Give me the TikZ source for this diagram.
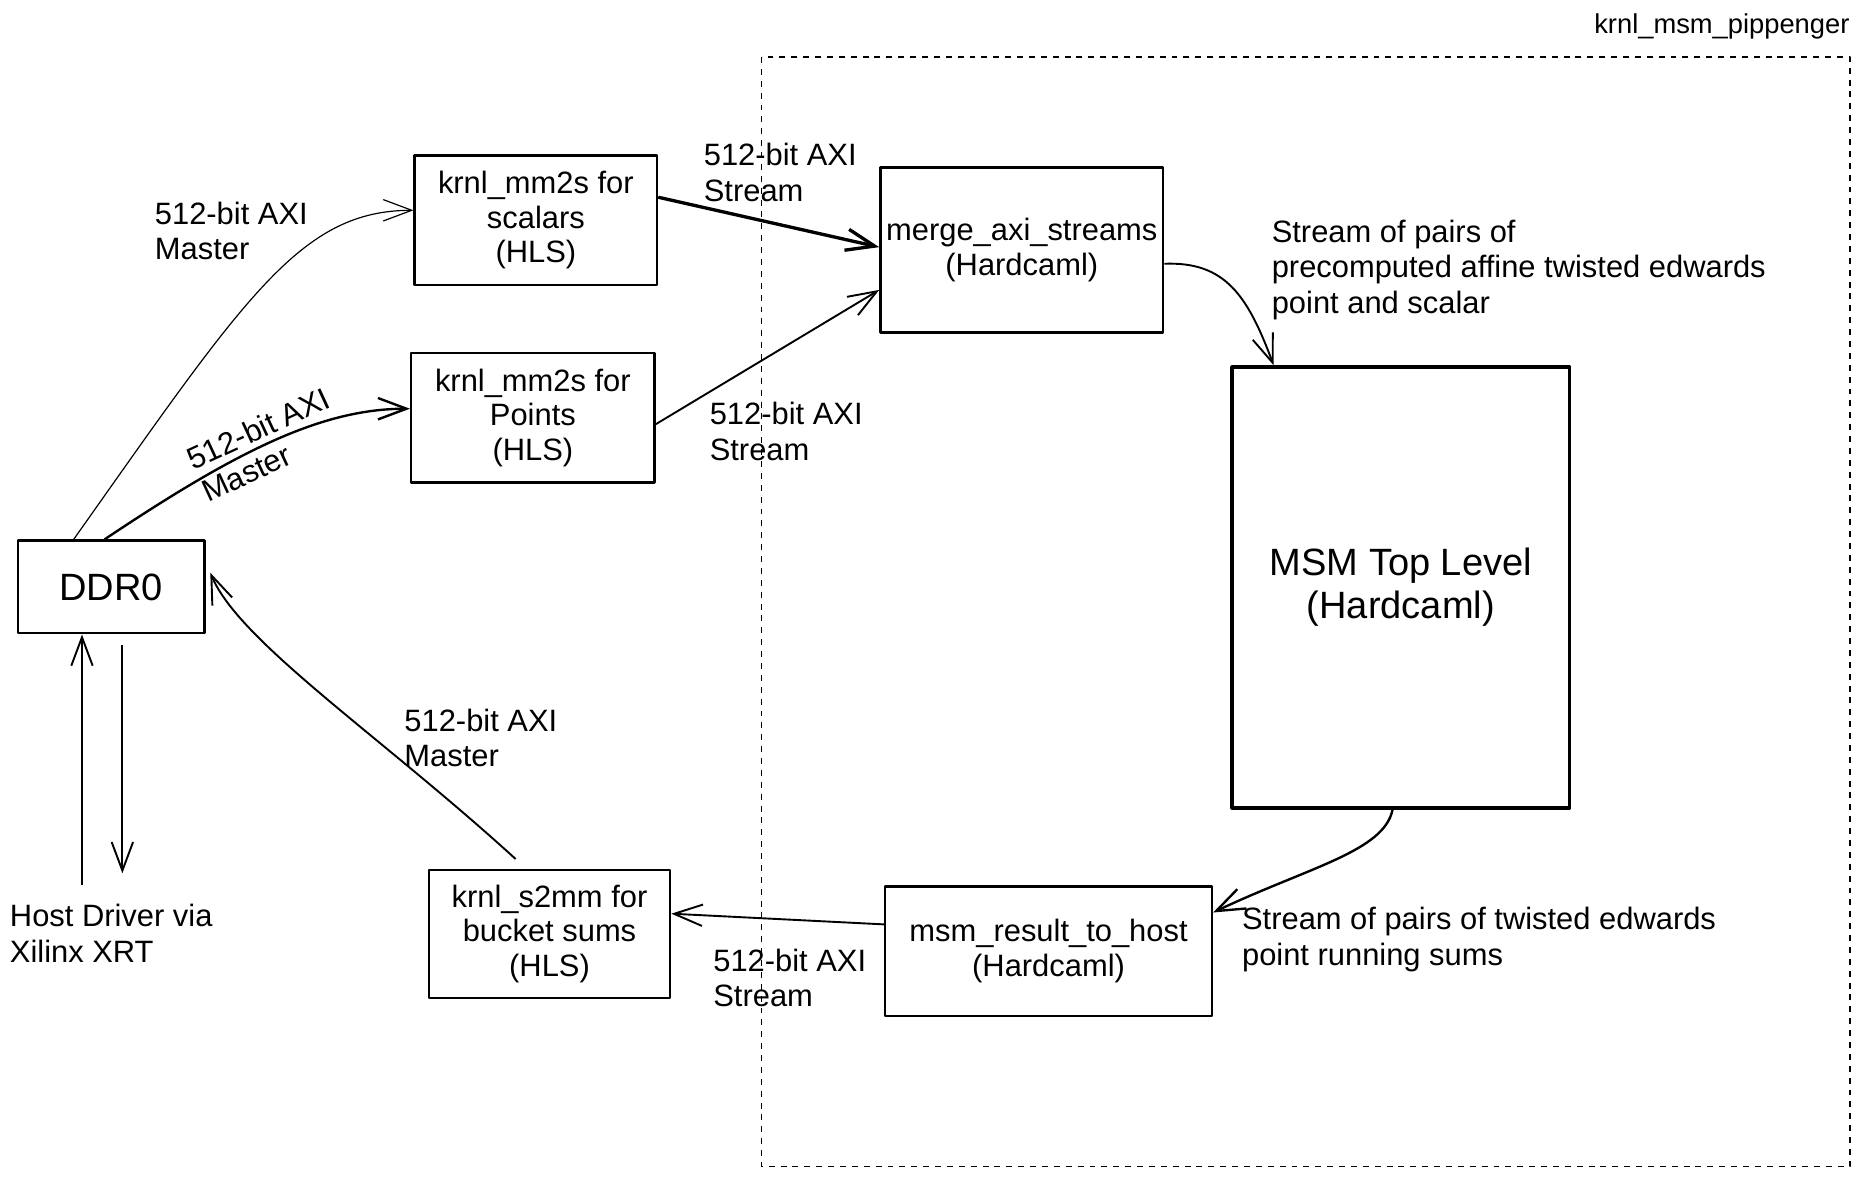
\documentclass[tikz,border=0pt]{standalone}
\usepackage{fontspec}
\setmainfont{Liberation Sans}
\usepackage{tikz}
\usepackage{xcolor}
\usetikzlibrary{arrows.meta,calc}

\begin{document}
\begin{tikzpicture}[x=0.5pt, y=-0.5pt, line join=round,
        boxnode/.style={shape=rectangle, draw=black, line width=1pt, align=center, inner sep=0pt, font=\fontsize{13}{14.5}\selectfont},
        bigboxnode/.style={boxnode, font=\fontsize{16}{18}\selectfont},
        labeltext/.style={anchor=west, align=left, inner sep=0pt, font=\fontsize{13}{15}\selectfont},
        flowarrow/.style={-{Straight Barb[length=12pt, width=9pt]}, line width=0.8pt}]
        \useasboundingbox (0, 0) rectangle (1568, 990);
        % Kernel boundary
        \draw[line width=0.6pt, dash pattern=on 2.5pt off 2.5pt] (641, 48) rectangle (1557, 982);
        \node[anchor=east, inner sep=0pt, font=\fontsize{11.5}{14}\selectfont] (pippenger) at (1557, 22) {krnl\_msm\_pippenger};
        % Blocks
        \node[bigboxnode, minimum width=78.5pt, minimum height=39pt] (ddr) at (93.5, 494) {DDR0};
        \node[boxnode, minimum width=102pt, minimum height=54.5pt] (scalars) at (451, 185.5) {krnl\_mm2s for\\scalars\\(HLS)};
        \node[boxnode, minimum width=102.5pt, minimum height=54.5pt] (points) at (448.5, 351.5) {krnl\_mm2s for\\Points\\(HLS)};
        \node[boxnode, minimum width=119pt, minimum height=69.5pt] (merge) at (860, 210.5) {merge\_axi\_streams\\(Hardcaml)};
        \node[bigboxnode, line width=1.5pt, minimum width=142pt, minimum height=185.5pt] (msm) at (1179, 494.5) {MSM Top Level\\(Hardcaml)};
        \node[boxnode, minimum width=137.5pt, minimum height=54.5pt] (result) at (882.5, 800.5) {msm\_result\_to\_host\\(Hardcaml)};
        \node[boxnode, minimum width=101.5pt, minimum height=54pt] (s2mm) at (462.5, 786) {krnl\_s2mm for\\bucket sums\\(HLS)};
        % Host side
        \node[labeltext] (host) at (8, 785.5) {Host Driver via\\Xilinx XRT};
        \coordinate (hostup) at (69, 745);
        \coordinate (hostdown) at (103, 735);
        \draw[flowarrow] (hostup) -- (hostup |- ddr.south);
        \draw[flowarrow] ($(hostdown |- ddr.south)+(0, 9)$) -- (hostdown);
        % Arrows
        \draw[flowarrow, line width=0.5pt] ($(ddr.north)+(-31.5, 0)$) .. controls +(145, -205) and +(-95, 0) .. ($(scalars.west)+(0, -8.5)$);
        \draw[flowarrow, line width=1pt] ($(ddr.north)+(-5.5, 0)$) .. controls +(112, -75) and +(-74, 0) .. ($(points.west)+(0, -7.5)$)
                node[sloped, pos=0.47, align=left, inner sep=0pt, font=\fontsize{13}{15}\selectfont] (pointslabel) {512-bit AXI\\Master};
        \draw[flowarrow, line width=1.4pt] ($(scalars.east)+(0, -19.5)$) -- ($(merge.west)+(0, -2.5)$);
        \draw[flowarrow] ($(points.east)+(0, 5.5)$) -- ($(merge.west)+(0, 33.5)$);
        \draw[flowarrow] ($(merge.east)+(0, 11.5)$) .. controls +(51, -2) and +(-22, -59) .. ($(msm.north)+(-107, 0)$);
        \draw[flowarrow, line width=1pt] ($(msm.south)+(-7, 0)$) .. controls +(-7, 35) and +(80, -38) .. ($(result.east)+(0, -32.5)$);
        \draw[flowarrow] ($(result.west)+(0, -22.5)$) -- ($(s2mm.east)+(0, -17)$);
        \draw[flowarrow] ($(s2mm.north)+(-28.5, -8)$) .. controls +(-114, -104) and +(24, 58) .. ($(ddr.east)+(4, -12)$);
        % Labels
        \node[labeltext] (scalarslabel) at (130, 194.5) {512-bit AXI\\Master};
        \node[labeltext] (scalarstream) at (592, 145) {512-bit AXI\\Stream};
        \node[labeltext] (pointstream) at (597, 363) {512-bit AXI\\Stream};
        \node[labeltext] (mergelabel) at (1070, 227) {Stream of pairs of\\precomputed affine twisted edwards\\point and scalar};
        \node[labeltext] (resultlabel) at (1045, 790.5) {Stream of pairs of twisted edwards\\point running sums};
        \node[labeltext] (resultstream) at (600, 823) {512-bit AXI\\Stream};
        \node[labeltext] (bucketlabel) at (340, 621) {512-bit AXI\\Master};
\end{tikzpicture}
\end{document}
